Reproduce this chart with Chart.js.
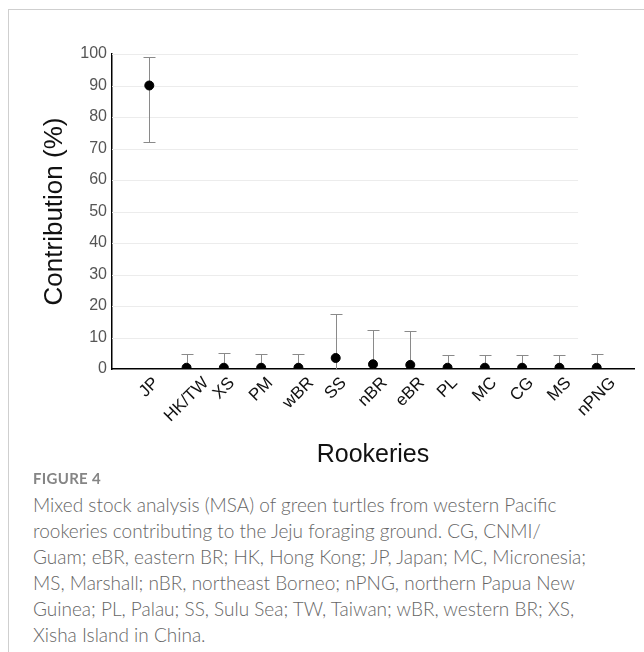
<!DOCTYPE html>
<html>
<head>
<meta charset="utf-8">
<script src="https://cdn.jsdelivr.net/npm/chart.js@4/dist/chart.umd.min.js"></script>
<style>
  body { margin: 0; background: #fff; }
  #frame {
    position: absolute; left: 8px; top: 9px; width: 636px; height: 643px;
    border-top: 1px solid #cfcfcf; border-left: 1px solid #cfcfcf;
  }
  #wrap { position: absolute; left: 0; top: 0; width: 644px; height: 470px; }
  #fig { position: absolute; left: 33px; top: 469px; line-height: 18px; font-family: Lato, "Open Sans", sans-serif;
    font-size: 15px; font-weight: 700; color: #858585; letter-spacing: 0.3px; }
  #cap { position: absolute; left: 33px; top: 492px; width: 610px; white-space: nowrap;
    font-family: Lato, "Open Sans", sans-serif;
    font-size: 19px; line-height: 26px; color: #666; font-weight: 300; }
</style>
</head>
<body>
<div id="frame"></div>
<div id="wrap"><canvas id="msa"></canvas></div>
<div id="fig">FIGURE 4</div>
<div id="cap">Mixed stock analysis (MSA) of green turtles from western Pacific<br>rookeries contributing to the Jeju foraging ground. CG, CNMI/<br>Guam; eBR, eastern BR; HK, Hong Kong; JP, Japan; MC, Micronesia;<br>MS, Marshall; nBR, northeast Borneo; nPNG, northern Papua New<br>Guinea; PL, Palau; SS, Sulu Sea; TW, Taiwan; wBR, western BR; XS,<br>Xisha Island in China.</div>
<script>
// MSA estimates (%)
var rookeries = ["JP", "HK/TW", "XS", "PM", "wBR", "SS", "nBR", "eBR", "PL", "MC", "CG", "MS", "nPNG"];
var contribution = [90, 0.4, 0.4, 0.4, 0.4, 3.5, 1.5, 1.3, 0.4, 0.4, 0.4, 0.4, 0.4];
var lowerCI = [72, 0, 0, 0, 0, 0, 0, 0, 0, 0, 0, 0, 0];
var upperCI = [99, 4.7, 5.0, 4.7, 4.7, 17.5, 12.3, 12.0, 4.6, 4.4, 4.6, 4.4, 4.8];
var yTicks = [0, 10, 20, 30, 40, 50, 60, 70, 80, 90, 100];
var gridEnd = 12.5; // horizontal grid stops short of the axis end

var points = rookeries.map(function (r, i) { return { x: i + 1, y: contribution[i] }; });

var errorBars = {
    id: 'errorBars',
    beforeDatasetsDraw: function (chart) {
        var ctx = chart.ctx, xs = chart.scales.x, ys = chart.scales.y, area = chart.chartArea;
        ctx.save();
        // grid
        ctx.strokeStyle = '#ececec';
        ctx.lineWidth = 1;
        yTicks.forEach(function (t) {
            if (t === 0) return;
            var py = Math.round(ys.getPixelForValue(t)) + 0.5;
            ctx.beginPath();
            ctx.moveTo(area.left, py);
            ctx.lineTo(xs.getPixelForValue(gridEnd), py);
            ctx.stroke();
        });
        // whiskers
        ctx.strokeStyle = '#8a8a8a';
        rookeries.forEach(function (r, i) {
            var px = Math.round(xs.getPixelForValue(i + 1)) + 0.5;
            var lo = ys.getPixelForValue(lowerCI[i]);
            var hi = Math.round(ys.getPixelForValue(upperCI[i])) + 0.5;
            ctx.beginPath();
            ctx.moveTo(px, lo);
            ctx.lineTo(px, hi);
            ctx.moveTo(px - 6, hi);
            ctx.lineTo(px + 6, hi);
            if (lowerCI[i] > 0) {
                var l = Math.round(lo) + 0.5;
                ctx.moveTo(px - 6, l);
                ctx.lineTo(px + 6, l);
            }
            ctx.stroke();
        });
        ctx.restore();
    },
    // rotated category labels, centred under each tick
    afterDraw: function (chart) {
        var ctx = chart.ctx, xs = chart.scales.x, area = chart.chartArea;
        var size = 17;
        ctx.save();
        ctx.font = size + 'px "Liberation Sans", Arial';
        ctx.fillStyle = '#111';
        ctx.textAlign = 'center';
        ctx.textBaseline = 'middle';
        rookeries.forEach(function (r, i) {
            var w = ctx.measureText(r).width;
            var half = (w + size * 0.72) / (2 * Math.SQRT2);
            ctx.save();
            ctx.translate(xs.getPixelForValue(i + 1), area.bottom + 7 + half);
            ctx.rotate(-Math.PI / 4);
            ctx.fillText(r, 0, 0);
            ctx.restore();
        });
        ctx.restore();
    }
};

var chart = new Chart(document.getElementById('msa'), {
    type: 'scatter',
    data: {
        datasets: [{
            label: 'Contribution',
            data: points,
            backgroundColor: '#000',
            borderColor: '#000',
            pointRadius: 4.5,
            pointHoverRadius: 4.5
        }]
    },
    options: {
        responsive: true,
        maintainAspectRatio: false,
        animation: false,
        layout: { padding: { left: 0, right: 10, top: 54, bottom: 0 } },
        plugins: { legend: { display: false }, tooltip: { enabled: false } },
        scales: {
            x: {
                type: 'linear',
                min: 0,
                max: rookeries.length + 1,
                ticks: { display: false },
                grid: { display: false },
                border: { display: true, color: '#000', width: 1.5 },
                title: {
                    display: true,
                    text: 'Rookeries',
                    color: '#111',
                    font: { family: 'Liberation Sans, Arial', size: 25 },
                    padding: { top: 0, bottom: 0 }
                },
                afterFit: function (s) { s.height = 101; }
            },
            y: {
                min: 0,
                max: 100,
                afterBuildTicks: function (s) {
                    s.ticks = yTicks.map(function (v) { return { value: v }; });
                },
                ticks: {
                    color: '#555',
                    padding: 5,
                    font: { family: 'Liberation Sans, Arial', size: 16 }
                },
                grid: { display: false, drawTicks: false },
                border: { display: true, color: '#000', width: 1.5 },
                title: {
                    display: true,
                    text: 'Contribution (%)',
                    color: '#111',
                    font: { family: 'Liberation Sans, Arial', size: 26 },
                    padding: { top: 39, bottom: 0 }
                },
                afterFit: function (s) { s.width = 112; }
            }
        }
    },
    plugins: [errorBars]
});
</script>
</body>
</html>
